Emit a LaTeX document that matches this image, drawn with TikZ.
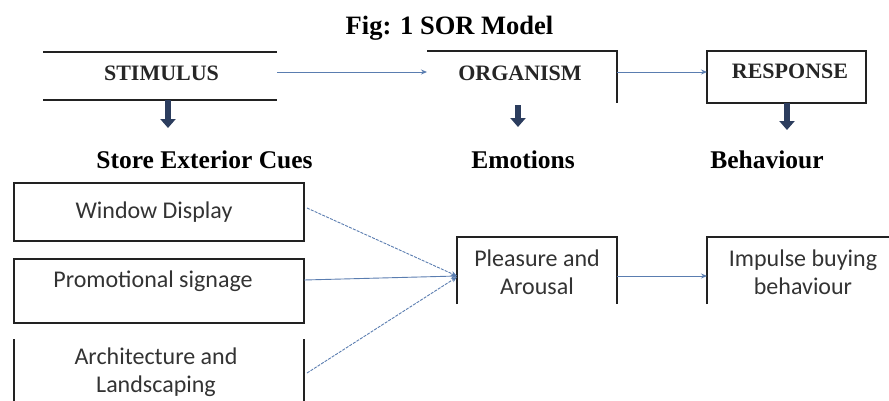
\documentclass[tikz,border=0pt]{standalone}
\usepackage{fontspec}
\setmainfont{Liberation Serif}
\newfontfamily\calfont{Carlito}
\usetikzlibrary{arrows.meta}
\definecolor{connc}{HTML}{5A7DB0}
\definecolor{navyc}{HTML}{2C3D5E}
\definecolor{framec}{HTML}{222222}
\begin{document}
\begin{tikzpicture}[x=1pt,y=-1pt,
  frame/.style={draw=none, inner sep=0pt, outer sep=0pt},
  edge/.style={draw=framec, line width=1.4pt},
  link/.style={draw=connc, line width=0.9pt, -{Stealth[length=6pt,width=5pt]}},
  dlink/.style={link, dash pattern=on 3pt off 1.2pt},
  downarr/.style={draw=navyc, line width=5.5pt, -{Triangle[length=9pt,width=15pt]}},
  head/.style={font=\fontsize{22}{26}\selectfont\bfseries, anchor=base, text=black!85, inner sep=0pt},
  sub/.style={font=\fontsize{25.5}{30}\selectfont\bfseries, anchor=base, inner sep=0pt},
  lbl/.style={font=\calfont\fontsize{24}{28}\selectfont, text=black!80, inner sep=0pt, align=center}
]
\useasboundingbox (0,0) rectangle (889,400);

% title
\node[anchor=base, inner sep=0pt, font=\fontsize{26.5}{30}\selectfont\bfseries] (title) at (449.5,34) {Fig: 1 SOR Model};

% frames
\node[frame, minimum width=234pt, minimum height=48pt] (stim) at (160,76) {};
\node[frame, minimum width=190pt, minimum height=52pt] (org) at (522,77) {};
\node[frame, minimum width=159pt, minimum height=52pt] (resp) at (786.5,77) {};
\node[frame, minimum width=290pt, minimum height=58pt] (win) at (159,212) {};
\node[frame, minimum width=290pt, minimum height=64pt] (promo) at (159,291) {};
\node[frame, minimum width=290pt, minimum height=70pt] (arch) at (159,374) {};
\node[frame, minimum width=160pt, minimum height=67pt] (pleas) at (537,270.5) {};
\node[frame, minimum width=182pt, minimum height=67pt] (imp) at (798,270.5) {};

% frame borders (as visible)
\draw[edge] (stim.north west) -- (stim.north east);
\draw[edge] (stim.south west) -- (stim.south east);
\draw[edge] (org.north west) -- (org.north east) -- (org.south east);
\draw[edge] (resp.north west) rectangle (resp.south east);
\draw[edge] (win.north west) rectangle (win.south east);
\draw[edge] (promo.north west) rectangle (promo.south east);
\draw[edge] (arch.north west) -- (arch.south west);
\draw[edge] (arch.north east) -- (arch.south east);
\draw[edge] (pleas.south west) -- (pleas.north west) -- (pleas.north east) -- (pleas.south east);
\draw[edge] (imp.south west) -- (imp.north west) -- (imp.north east);

% headings
\node[head] (tstim) at (161.5,80) {STIMULUS};
\node[head] (torg) at (520,80) {ORGANISM};
\node[head] (tresp) at (790,78) {RESPONSE};

\node[sub] (cues) at (204.5,168) {Store Exterior Cues};
\node[sub] (emo) at (523,168) {Emotions};
\node[sub] (beh) at (767,168) {Behaviour};

% box labels
\node[lbl, anchor=base] (twin) at (154,218) {Window Display};
\node[lbl, anchor=base] (tpromo) at (153,287) {Promotional signage};
\node[lbl] (tarch) at (156,372) {Architecture and\\Landscaping};
\node[lbl] (tpleas) at (537,272.5) {Pleasure and\\Arousal};
\node[lbl] (timp) at (803,272.5) {Impulse buying\\behaviour};

% horizontal connectors
\draw[link] ([yshift=4pt]stim.east) -- ([yshift=4pt]stim.east -| org.west);
\draw[link] ([yshift=5pt]org.east) -- ([yshift=5pt]org.east -| resp.west);
\draw[link] ([yshift=-5.5pt]pleas.east) -- ([yshift=-5.5pt]pleas.east -| imp.west);

% converging connectors
\draw[dlink] ([yshift=4pt,xshift=3pt]win.east) -- ([yshift=-5.5pt]pleas.west);
\draw[link] ([yshift=11pt]promo.east) -- ([yshift=-5.5pt]pleas.west);
\draw[dlink] ([yshift=1pt,xshift=3pt]arch.east) -- ([yshift=-6.5pt]pleas.west);

% down arrows
\coordinate (d1) at (168,128);
\coordinate (d2) at (518,127);
\coordinate (d3) at (787,130);
\draw[downarr] (stim.south -| d1) -- (d1);
\draw[downarr] ([yshift=-2pt]org.south -| d2) -- (d2);
\draw[downarr] (resp.south -| d3) -- (d3);
\end{tikzpicture}
\end{document}
